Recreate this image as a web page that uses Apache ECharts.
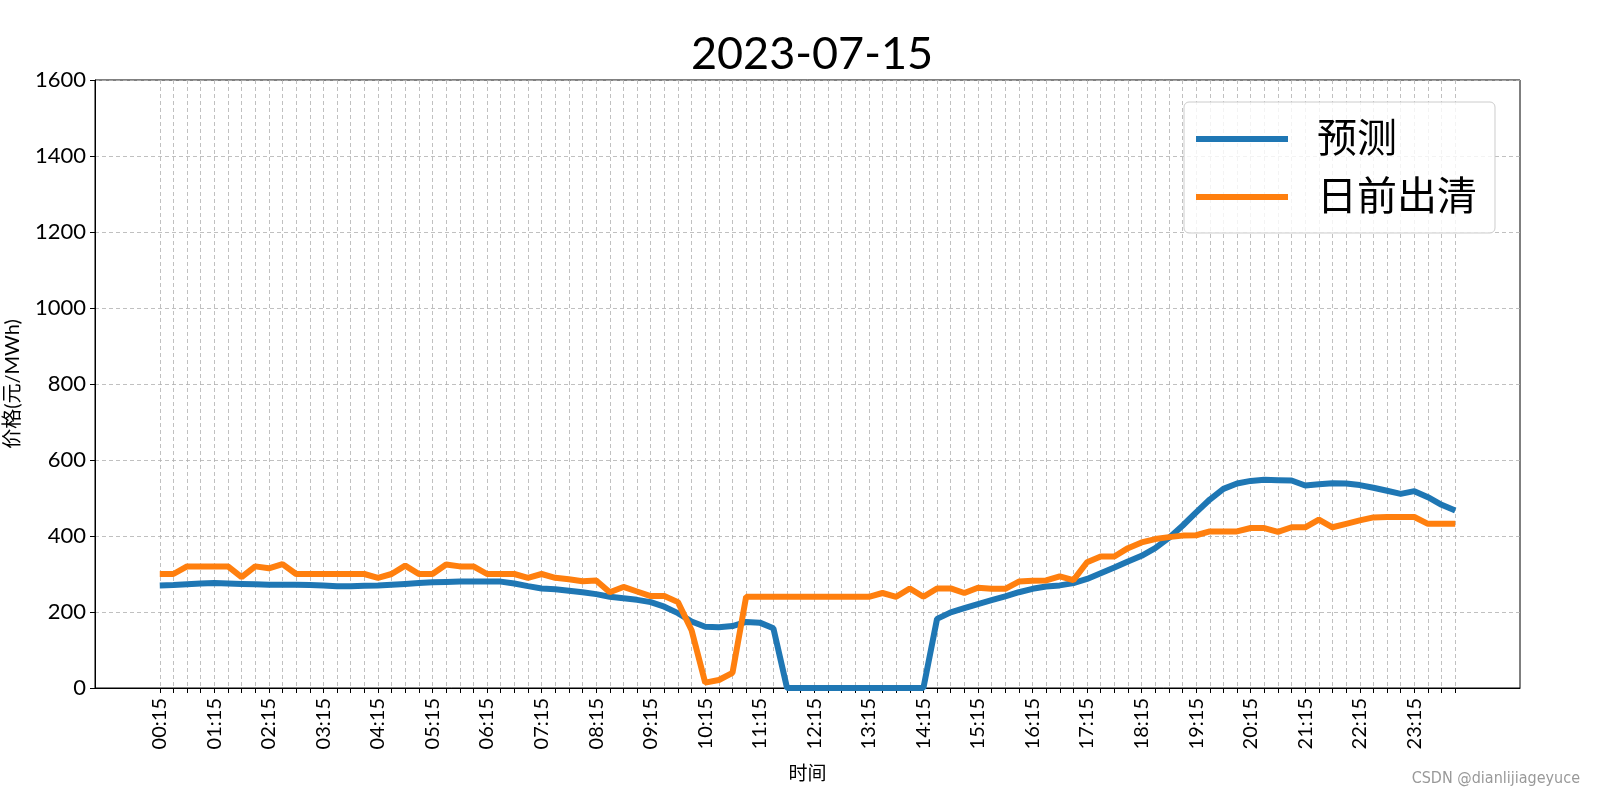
<!DOCTYPE html>
<html>
<head>
<meta charset="utf-8">
<script src="https://cdn.jsdelivr.net/npm/echarts@6/dist/echarts.min.js"></script>
<style>
html,body{margin:0;padding:0;background:#fff;}
#main{width:1600px;height:800px;}
</style>
</head>
<body>
<div id="main"></div>
<script>
// ---- data ----
const titleText = '2023-07-15';
const seriesNames = ['预测', '日前出清'];
const timeLabels = [];
for (let i = 1; i <= 96; i++) {
  const m = i * 15;
  const hh = String(Math.floor(m / 60)).padStart(2, '0');
  const mm = String(m % 60).padStart(2, '0');
  timeLabels.push(hh + ':' + mm);
}
const forecast = [
  270,271,273,275,276,275,274,273,272,272,272,271,270,268,268,269,270,272,274,276,278,279,280,280,280,
  280,275,268,262,260,256,252,247,240,236,232,226,214,197,175,161,160,163,174,172,157,
  0,0,0,0,0,0,0,0,0,0,0,
  182,199,210,221,231,241,252,261,267,270,276,287,302,317,333,348,368,395,427,462,496,524,538,545,
  548,547,546,533,536,539,538,534,527,519,511,518,502,482,467
];
const dayAhead = [
  300,300,320,320,320,320,292,320,315,326,300,300,300,300,300,300,290,300,322,300,300,325,320,320,300,
  300,300,290,300,290,286,281,283,252,266,254,242,242,226,152,14,21,40,
  240,240,240,240,240,240,240,240,240,240,
  250,240,262,240,262,262,250,264,261,261,280,282,283,294,284,331,346,346,368,383,392,397,401,402,
  412,412,412,421,421,411,423,423,443,423,432,441,449,450,450,450,432,432,432
];
const labelIdx = [];
for (let i = 0; i < 96; i += 4) labelIdx.push(i);
const allIdx = timeLabels.map((_, i) => i);

const FONT = "Lato, 'Noto Sans CJK SC', sans-serif";
const chart = echarts.init(document.getElementById('main'));
chart.setOption({
  animation: false,
  backgroundColor: '#fff',
  title: {
    text: titleText, left: 807, top: 27, textAlign: 'center',
    textStyle: {fontSize: 45, fontWeight: 'normal', color: '#000', fontFamily: FONT}
  },
  grid: {left: 95, right: 80, top: 80, bottom: 112, containLabel: false, outerBoundsMode: 'none',
         show: true, borderColor: '#000', borderWidth: 1, backgroundColor: 'transparent'},
  legend: {
    orient: 'vertical', left: 1184, top: 102,
    padding: [17, 18, 16, 12], itemGap: 18,
    itemWidth: 92, itemHeight: 6, icon: 'rect',
    borderColor: '#cccccc', borderWidth: 1, borderRadius: 5,
    backgroundColor: 'rgba(255,255,255,0.8)',
    textStyle: {fontSize: 40, color: '#000', fontFamily: FONT, padding: [0, 0, 0, 24]},
    data: seriesNames
  },
  xAxis: {
    type: 'value', min: -4.75, max: 99.75,
    name: '时间', nameLocation: 'middle', nameGap: 76,
    nameTextStyle: {fontSize: 19, color: '#000', fontFamily: FONT},
    axisLine: {onZero: false, lineStyle: {color: '#000', width: 1}},
    axisTick: {show: true, length: 5, inside: false, lineStyle: {color: '#000'}, customValues: allIdx},
    axisLabel: {
      customValues: labelIdx, rotate: 90, margin: 10, fontSize: 20, color: '#000', fontFamily: FONT,
      formatter: v => timeLabels[Math.round(v)] || ''
    },
    splitLine: {show: true, lineStyle: {color: '#b0b0b0', type: [4, 3], width: 0.8}}
  },
  yAxis: {
    type: 'value', min: 0, max: 1600, interval: 200,
    name: '价格(元/MWh)', nameLocation: 'middle', nameGap: 72, nameRotate: 90,
    nameTextStyle: {fontSize: 20, color: '#000', fontFamily: FONT},
    axisLine: {show: true, onZero: false, lineStyle: {color: '#000', width: 1}},
    axisTick: {show: true, length: 5, lineStyle: {color: '#000'}},
    axisLabel: {fontSize: 22, color: '#000', margin: 9, fontFamily: FONT, formatter: v => String(v)},
    splitLine: {show: true, lineStyle: {color: '#b0b0b0', type: [4, 3], width: 0.8}}
  },
  series: [
    {name: seriesNames[0], type: 'line', showSymbol: false, symbol: 'none', color: '#1f77b4',
     lineStyle: {width: 6, color: '#1f77b4'}, data: forecast.map((v, i) => [i, v]), z: 3},
    {name: seriesNames[1], type: 'line', showSymbol: false, symbol: 'none', color: '#ff7f0e',
     lineStyle: {width: 6, color: '#ff7f0e'}, data: dayAhead.map((v, i) => [i, v]), z: 4}
  ],
  graphic: [{
    type: 'text', right: 20, top: 771,
    style: {text: 'CSDN @dianlijiageyuce', fontSize: 16, fill: '#999', fontFamily: "'Liberation Sans Narrow', 'DejaVu Sans Condensed', sans-serif"}
  }]
});
</script>
</body>
</html>
